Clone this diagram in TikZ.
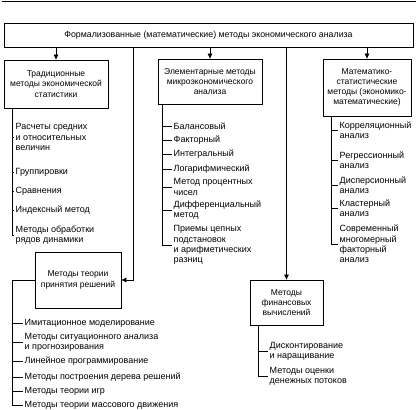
\documentclass[tikz,border=0pt]{standalone}
\usepackage{fontspec}
\setmainfont{Liberation Sans}
\usetikzlibrary{arrows.meta}
\begin{document}
\begin{tikzpicture}[x=1pt,y=-1pt,
  txt/.style={font=\fontsize{8.5}{10.3}\selectfont},
  box/.style={txt, draw, line width=0.8pt, align=center, inner sep=1pt},
  item/.style={font=\fontsize{9}{10.3}\selectfont, anchor=west, align=left, inner xsep=1.5pt, inner ysep=0pt},
  conn/.style={line width=0.7pt},
  arr/.style={conn, -{Triangle[length=5pt,width=4.5pt]}}]
\useasboundingbox (0,0) rectangle (416,410);
\coordinate (hl) at (2,1);
\coordinate (hr) at (416,1);
\draw[conn] (hl) -- (hr);
% boxes
\node[box, font=\fontsize{8.8}{10.3}\selectfont, minimum width=409, minimum height=24] (top) at (208.5,35)
  {Формализованные (математические) методы экономического анализа};
\node[box, minimum width=104, minimum height=48] (b1) at (56,84)
  {Традиционные\\методы экономической\\статистики};
\node[box, minimum width=104, minimum height=45] (b2) at (210,81.5)
  {Элементарные методы\\микроэкономического\\анализа};
\node[box, minimum width=88, minimum height=57] (b3) at (367,87.5)
  {Математико-\\статистические\\методы (экономико-\\математические)};
\node[box, minimum width=86, minimum height=56] (b4) at (78,280)
  {Методы теории\\принятия решений};
\node[box, minimum width=73, minimum height=45] (b5) at (286.5,302.5)
  {Методы\\финансовых\\вычислений};
% arrows from top
\coordinate (t4) at (133,0);
\draw[arr] (top.south -| b1.north) -- (b1.north);
\draw[arr] (top.south -| b2.north) -- (b2.north);
\draw[arr] (top.south -| b3.north) -- (b3.north);
\draw[arr] (top.south -| t4) |- (b4.east);
\draw[arr] (top.south -| b5.north) -- (b5.north);
% list 1
\coordinate (v1) at (12,0);
\node[item] (i11) at (14,137) {Расчеты средних\\и относительных\\величин};
\node[item] (i12) at (14,172) {Группировки};
\node[item] (i13) at (14,191) {Сравнения};
\node[item] (i14) at (14,210) {Индексный метод};
\node[item] (i15) at (14,235) {Методы обработки\\рядов динамики};
\draw[conn] (b1.south -| v1) -- (v1 |- i15.west);
\foreach \i in {i11,i12,i13,i14,i15} \draw[conn] (v1 |- \i.west) -- (\i.west);
% list 2
\coordinate (v2) at (162,0);
\node[item] (i21) at (172,126) {Балансовый};
\node[item] (i22) at (172,140) {Факторный};
\node[item] (i23) at (172,154) {Интегральный};
\node[item] (i24) at (172,169) {Логарифмический};
\node[item] (i25) at (172,187) {Метод процентных\\чисел};
\node[item] (i26) at (172,210) {Дифференциальный\\метод};
\node[item] (i27) at (172,245) {Приемы цепных\\подстановок\\и арифметических\\разниц};
\draw[conn] (b2.south -| v2) -- (v2 |- i27.west);
\foreach \i in {i21,i22,i23,i24,i25,i26,i27} \draw[conn] (v2 |- \i.west) -- (\i.west);
% list 3
\coordinate (v3) at (331,0);
\node[item] (i31) at (338,130) {Корреляционный\\анализ};
\node[item] (i32) at (338,160) {Регрессионный\\анализ};
\node[item] (i33) at (338,185) {Дисперсионный\\анализ};
\node[item] (i34) at (338,208) {Кластерный\\анализ};
\node[item] (i35) at (338,244) {Современный\\многомерный\\факторный\\анализ};
\draw[conn] (b3.south -| v3) -- (v3 |- i35.west);
\foreach \i in {i31,i32,i33,i34,i35} \draw[conn] (v3 |- \i.west) -- (\i.west);
% list 4
\coordinate (v4) at (12,0);
\node[item] (i41) at (23,323) {Имитационное моделирование};
\node[item] (i42) at (23,342) {Методы ситуационного анализа\\и прогнозирования};
\node[item] (i43) at (23,361) {Линейное программирование};
\node[item] (i44) at (23,377) {Методы построения дерева решений};
\node[item] (i45) at (23,391) {Методы теории игр};
\node[item] (i46) at (23,405) {Методы теории массового движения};
\draw[conn] (b4.west) -| (v4 |- i46.west);
\foreach \i in {i41,i42,i43,i44,i45,i46} \draw[conn] (v4 |- \i.west) -- (\i.west);
% list 5
\coordinate (v5) at (258,0);
\node[item] (i51) at (268,351) {Дисконтирование\\и наращивание};
\node[item] (i52) at (268,376) {Методы оценки\\денежных потоков};
\draw[conn] (b5.south -| v5) -- (v5 |- i52.west);
\foreach \i in {i51,i52} \draw[conn] (v5 |- \i.west) -- (\i.west);
\end{tikzpicture}
\end{document}
